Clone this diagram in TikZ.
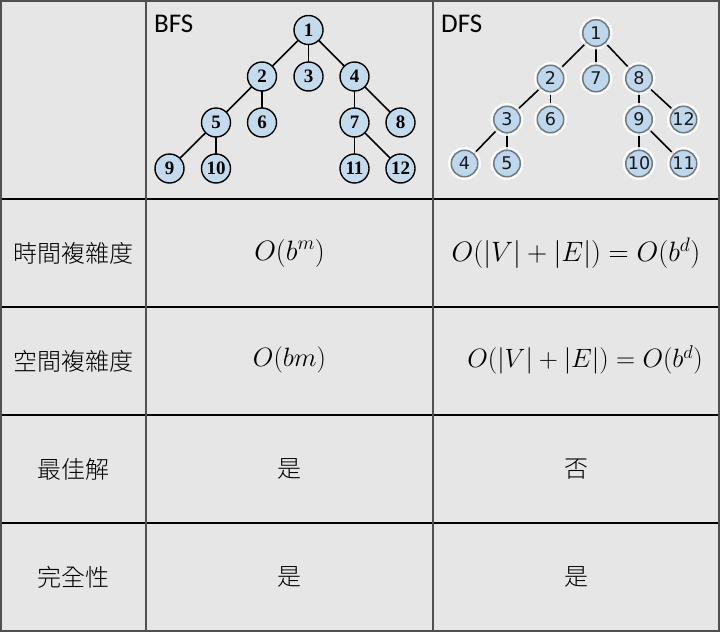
\documentclass[tikz,border=0pt]{standalone}
\usepackage{fix-cm}
\usepackage{fontspec}
\newfontfamily\cjk{Noto Sans CJK TC Light}
\newfontfamily\labfont{Carlito}
\newfontfamily\bfsfont{Liberation Serif}
\newfontfamily\dfsfont{DejaVu Sans}
\definecolor{cellbg}{HTML}{E6E6E6}
\definecolor{nodeblue}{HTML}{C4DBEE}
\definecolor{dfsblue}{HTML}{BED7EC}
\definecolor{rimgray}{HTML}{707880}
\definecolor{framegray}{HTML}{505050}
\pgfdeclarelayer{bglayer}
\pgfdeclarelayer{edgelayer}
\pgfsetlayers{bglayer,edgelayer,main}
\tikzset{
  bfsnode/.style={circle, draw=black, line width=1.4pt, fill=nodeblue, minimum size=29pt, inner sep=0pt,
    font=\bfsfont\bfseries\fontsize{19}{19}\selectfont},
  dfsnode/.style={circle, draw=rimgray, line width=1.5pt, fill=dfsblue, minimum size=26.5pt, inner sep=0pt,
    font=\dfsfont\fontsize{17.5}{17.5}\selectfont, text=black!90,
    preaction={draw=white, line width=6.5pt, opacity=0.85}},
  treeedge/.style={draw=black, line width=1.6pt},
  cjktext/.style={font=\cjk\fontsize{24}{26}\selectfont, inner sep=0pt},
  bigmath/.style={font=\fontsize{28}{30}\selectfont, inner sep=0pt},
  smallmath/.style={font=\fontsize{26.5}{28}\selectfont, inner sep=0pt},
  headlab/.style={font=\labfont\fontsize{27}{27}\selectfont, inner sep=0pt, anchor=base west},
  gridline/.style={line width=1.5pt}
}
\begin{document}
\begin{tikzpicture}[x=1pt,y=-1pt]
\useasboundingbox (0,0) rectangle (720,632);
\begin{pgfonlayer}{bglayer}
\fill[cellbg] (0,0) rectangle (720,632);
\end{pgfonlayer}
% grid
\draw[gridline, black] (0,199) -- (720,199);
\draw[gridline, black] (0,307) -- (720,307);
\draw[gridline, black] (0,415) -- (720,415);
\draw[gridline, black] (0,523) -- (720,523);
\draw[gridline, framegray] (146,0) -- (146,632);
\draw[gridline, framegray] (433,0) -- (433,632);
\draw[line width=2pt, framegray] (1,1) rectangle (719,631);

% headers
\node[headlab] (bfslab) at (154,32) {BFS};
\node[headlab] (dfslab) at (441,32) {DFS};

% BFS tree
\node[bfsnode] (b1) at (308.5,30) {1};
\node[bfsnode] (b2) at (262,76.5) {2};
\node[bfsnode] (b3) at (308.5,76.5) {3};
\node[bfsnode] (b4) at (354.5,76.5) {4};
\node[bfsnode] (b5) at (216,122.5) {5};
\node[bfsnode] (b6) at (262,122.5) {6};
\node[bfsnode] (b7) at (354.5,122.5) {7};
\node[bfsnode] (b8) at (400.5,122.5) {8};
\node[bfsnode] (b9) at (169.5,168.5) {9};
\node[bfsnode] (b10) at (216,168.5) {10};
\node[bfsnode] (b11) at (354.5,168.5) {11};
\node[bfsnode] (b12) at (400.5,168.5) {12};

% DFS tree
\node[dfsnode] (d1) at (596,33) {1};
\node[dfsnode] (d2) at (550.5,78.5) {2};
\node[dfsnode] (d7) at (596,78.5) {7};
\node[dfsnode] (d8) at (639,78.5) {8};
\node[dfsnode] (d3) at (507,119.5) {3};
\node[dfsnode] (d6) at (550.5,119.5) {6};
\node[dfsnode] (d9) at (639,119.5) {9};
\node[dfsnode] (d12) at (683.5,119.5) {12};
\node[dfsnode] (d4) at (464.5,163.5) {4};
\node[dfsnode] (d5) at (507,163.5) {5};
\node[dfsnode] (d10) at (639,163.5) {10};
\node[dfsnode] (d11) at (683.5,163.5) {11};

\begin{pgfonlayer}{edgelayer}
\foreach \a/\b in {b1/b2,b1/b3,b1/b4,b2/b5,b2/b6,b5/b9,b5/b10,b4/b7,b4/b8,b7/b11,b7/b12,
                   d1/d2,d1/d7,d1/d8,d2/d3,d2/d6,d3/d4,d3/d5,d8/d9,d8/d12,d9/d10,d9/d11}
  \draw[treeedge] (\a.center) -- (\b.center);
\end{pgfonlayer}

% row labels
\node[cjktext] (r2) at (73,253) {時間複雜度};
\node[cjktext] (r3) at (73,361) {空間複雜度};
\node[cjktext] (r4) at (73,469) {最佳解};
\node[cjktext] (r5) at (73,577) {完全性};

% math cells
\node[bigmath] (m21) at (289.5,253) {$O(b^m)$};
\node[bigmath] (m22) at (576,253) {$O(|V|+|E|)=O(b^d)$};
\node[smallmath] (m31) at (289.5,360) {$O(bm)$};
\node[smallmath, anchor=east] (m32) at (703,360) {$O(|V|+|E|)=O(b^d)$};

% yes / no
\node[cjktext] (c41) at (289.5,469) {是};
\node[cjktext] (c42) at (576,469) {否};
\node[cjktext] (c51) at (289.5,577) {是};
\node[cjktext] (c52) at (576,577) {是};
\end{tikzpicture}
\end{document}
